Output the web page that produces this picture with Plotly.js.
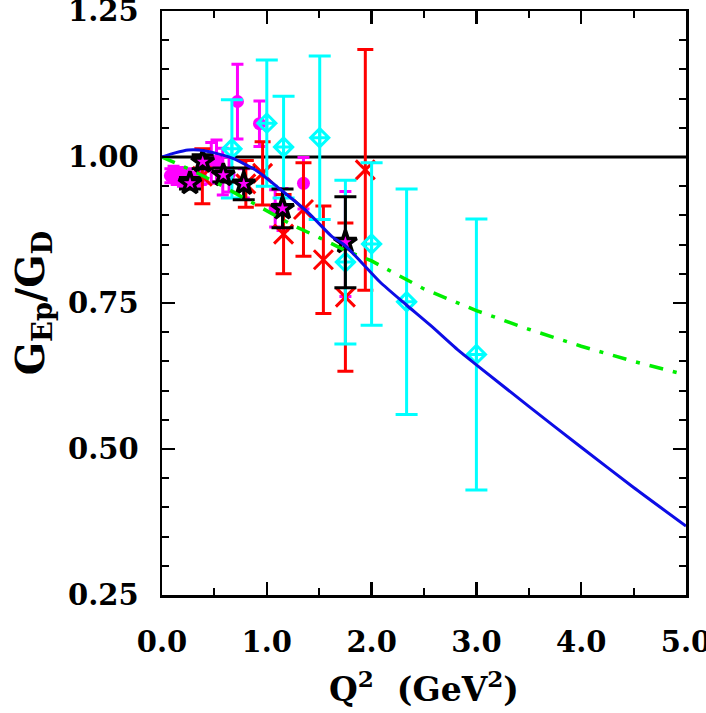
<!DOCTYPE html>
<html>
<head>
<meta charset="utf-8">
<script src="https://cdn.plot.ly/plotly-3.0.1.min.js"></script>
<style>html,body{margin:0;padding:0;background:#fff;}#chart{width:706px;height:713px;}</style>
</head>
<body>
<div id="chart"></div>
<script>
// ---- data ----
// magenta filled circles
const magQ2   = [0.08, 0.11, 0.14, 0.17, 0.20, 0.24, 0.28, 0.33, 0.37, 0.47, 0.52, 0.58, 0.64, 0.72, 0.78, 0.93, 1.08, 1.15, 1.35, 1.75];
const magVal  = [0.968,0.972,0.965,0.970,0.962,0.968,0.958,0.962,0.965,0.990,0.993,0.975,0.970,1.095,0.955,1.057,0.912,0.910,0.955,0.851];
const magErr  = [0.012,0.012,0.012,0.012,0.012,0.012,0.012,0.012,0.012,0.035,0.036,0.040,0.030,0.064,0.025,0.039,0.032,0.036,0.044,0.090];
// red crosses
const redQ2   = [0.385, 0.80, 0.96, 1.16, 1.35, 1.54, 1.75, 1.94];
const redVal  = [0.967, 0.954, 0.972, 0.868, 0.910, 0.824, 0.760, 0.978];
const redErr  = [0.047, 0.040, 0.054, 0.068, 0.080, 0.092, 0.127, 0.206];
// cyan open diamonds
const cyanQ2  = [0.667, 1.0, 1.16, 1.505, 1.75, 2.0, 2.334, 3.0];
const cyanVal = [1.014, 1.058, 1.017, 1.033, 0.820, 0.851, 0.752, 0.662];
const cyanErr = [0.084, 0.108, 0.087, 0.140, 0.140, 0.139, 0.193, 0.232];
// black stars
const starQ2  = [0.267, 0.388, 0.585, 0.78, 1.15, 1.75];
const starVal = [0.955, 0.992, 0.969, 0.954, 0.912, 0.854];
const starErr = [0.010, 0.012, 0.012, 0.027, 0.033, 0.078];
// curves
const blueQ2  = [0, 0.125, 0.25, 0.35, 0.5, 0.67, 0.89, 1.14, 1.4, 1.62, 1.75, 2.08, 2.33, 2.56, 2.84, 3.0, 3.5, 4.0, 4.5, 5.0];
const blueVal = [1.0, 1.007, 1.012, 1.012, 1.007, 0.998, 0.978, 0.943, 0.904, 0.864, 0.848, 0.786, 0.747, 0.712, 0.667, 0.644, 0.573, 0.503, 0.434, 0.368];
const greenQ2  = [0, 0.25, 0.5, 0.75, 1.0, 1.25, 1.5, 1.75, 2.0, 2.33, 2.5, 3.0, 3.5, 4.0, 4.5, 5.0];
const greenVal = [1.0, 0.98, 0.958, 0.933, 0.907, 0.883, 0.862, 0.840, 0.822, 0.790, 0.774, 0.737, 0.705, 0.676, 0.650, 0.627];
const unityQ2  = [0, 5];
const unityVal = [1, 1];

const FONT = "DejaVu Serif";

const traces = [
  {x: unityQ2, y: unityVal, mode: 'lines', line: {color: '#000', width: 3}, hoverinfo: 'skip'},
  {x: magQ2, y: magVal, mode: 'markers', marker: {symbol: 'circle', size: 13, color: '#ff00ff'},
   error_y: {type: 'data', array: magErr, color: '#ff00ff', thickness: 3, width: 6}},
  {x: redQ2, y: redVal, mode: 'markers', marker: {symbol: 'x-thin-open', size: 19, color: '#ff0000', line: {color: '#ff0000', width: 3}},
   error_y: {type: 'data', array: redErr, color: '#ff0000', thickness: 3, width: 8}},
  {x: cyanQ2, y: cyanVal, mode: 'markers', marker: {symbol: 'diamond-cross-open', size: 14, color: '#00ffff', line: {color: '#00ffff', width: 3}},
   error_y: {type: 'data', array: cyanErr, color: '#00ffff', thickness: 3, width: 11}},
  {x: starQ2, y: starVal, mode: 'markers', marker: {symbol: 'star', size: 17, color: '#ff00ff', line: {color: '#000', width: 3.5}},
   error_y: {type: 'data', array: starErr, color: '#000', thickness: 3, width: 11}},
  {x: greenQ2, y: greenVal, mode: 'lines', line: {color: '#00ee00', width: 3.5, dash: '14px,10px,4px,10px'}, hoverinfo: 'skip'},
  {x: blueQ2, y: blueVal, mode: 'lines', line: {color: '#0d0de6', width: 3, shape: 'spline', smoothing: 0.6}, hoverinfo: 'skip'}
];

const axisCommon = {
  showgrid: false, zeroline: false, showline: true, linecolor: '#000', linewidth: 2.5,
  mirror: 'ticks', ticks: 'inside', tickcolor: '#000', tickwidth: 2.5, ticklen: 13,
  tickfont: {family: FONT, size: 29, color: '#000', weight: 'bold'},
  ticklabeloverflow: 'allow',
  automargin: false
};

const layout = {
  width: 706, height: 713,
  margin: {l: 162, r: 20, t: 11, b: 118},
  paper_bgcolor: '#fff', plot_bgcolor: '#fff',
  showlegend: false,
  xaxis: Object.assign({}, axisCommon, {
    range: [0, 5], tickmode: 'linear', tick0: 0, dtick: 1, tickformat: '.1f',
    ticklabelstandoff: 20,
    minor: {dtick: 0.5, tick0: 0, ticks: 'inside', ticklen: 7, tickwidth: 2, tickcolor: '#000'},
    title: {text: 'Q<sup>2</sup>  (GeV<sup>2</sup>)', font: {family: FONT, size: 33, color: '#000', weight: 'bold'}, standoff: 20}
  }),
  yaxis: Object.assign({}, axisCommon, {
    range: [0.25, 1.25], tickmode: 'linear', tick0: 0.25, dtick: 0.25, tickformat: '.2f',
    ticklabelstandoff: 15,
    minor: {dtick: 0.05, tick0: 0.25, ticks: 'inside', ticklen: 7, tickwidth: 2, tickcolor: '#000'},
    title: {text: 'G<sub>Ep</sub>/G<sub>D</sub>', font: {family: FONT, size: 39, color: '#000', weight: 'bold'}, standoff: 12}
  })
};

Plotly.newPlot('chart', traces, layout, {staticPlot: true, displayModeBar: false});
</script>
</body>
</html>
